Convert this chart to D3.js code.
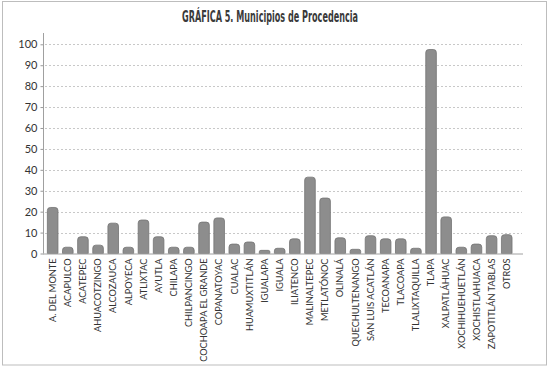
<!DOCTYPE html>
<html><head>
<meta charset="utf-8">
<title>Municipios de Procedencia</title>
<script src="https://d3js.org/d3.v7.min.js"></script>
<style>
body { margin: 0; background: #fff; }
svg text { fill: #333; }
</style>
</head>
<body>
<div id="chart"></div>
<script>
// data
const municipios = ["A. DEL MONTE", "ACAPULCO", "ACATEPEC", "AHUACOTZINGO", "ALCOZAUCA",
  "ALPOYECA", "ATLIXTAC", "AYUTLA", "CHILAPA", "CHILPANCINGO", "COCHOAPA EL GRANDE",
  "COPANATOYAC", "CUALAC", "HUAMUXTITLÁN", "IGUALAPA", "IGUALA", "ILIATENCO",
  "MALINALTEPEC", "METLATÓNOC", "OLINALÁ", "QUECHULTENANGO", "SAN LUIS ACATLÁN",
  "TECOANAPA", "TLACOAPA", "TLALIXTAQUILLA", "TLAPA", "XALPATLÁHUAC", "XOCHIHUEHUETLÁN",
  "XOCHISTLAHUACA", "ZAPOTITLÁN TABLAS", "OTROS"];
const casos = [22, 3, 8, 4, 14.5,
  3, 16, 8, 3, 3, 15,
  17, 4.5, 5.5, 1.5, 2.5, 7,
  36.5, 26.5, 7.5, 2, 8.5,
  7, 7, 2.5, 97.5, 17.5, 3,
  4.5, 8.5, 9];
const yTicks = [0, 10, 20, 30, 40, 50, 60, 70, 80, 90, 100];
const titulo = "GRÁFICA 5. Municipios de Procedencia";

const W = 550, H = 369;
const svg = d3.select("#chart").append("svg")
    .attr("width", W).attr("height", H);

// outer frame
svg.append("rect")
    .attr("x", 2.5).attr("y", 1.5)
    .attr("width", 544).attr("height", 363.5)
    .attr("fill", "#fff").attr("stroke", "#bdbdbd");

svg.append("text")
    .attr("x", 270).attr("y", 22)
    .attr("text-anchor", "middle")
    .attr("textLength", 176)
    .attr("lengthAdjust", "spacingAndGlyphs")
    .style("font-family", "'DejaVu Sans Condensed', 'DejaVu Sans', sans-serif")
    .style("font-size", "15.5px")
    .style("font-weight", "600")
    .style("fill", "#3a3a3a")
    .text(titulo);

const x = d3.scaleBand()
    .domain(municipios)
    .range([45.1, 514.3])
    .paddingInner(0.3)
    .paddingOuter(0.15);

const y = d3.scaleLinear()
    .domain([0, 100])
    .range([253.5, 44.3]);

// dotted grid
svg.append("g")
  .selectAll("line")
  .data(yTicks.filter(d => d > 0))
  .join("line")
    .attr("x1", 45).attr("x2", 522)
    .attr("y1", d => Math.round(y(d)) + 0.5)
    .attr("y2", d => Math.round(y(d)) + 0.5)
    .attr("stroke", "#c8c8c8")
    .attr("stroke-dasharray", "2,2");

// y axis
const yAxis = svg.append("g")
    .attr("transform", "translate(43.5,0)")
    .call(d3.axisLeft(y).tickValues(yTicks).tickSize(3).tickPadding(3));
yAxis.select(".domain").remove();
yAxis.selectAll("line").attr("stroke", "#999");
yAxis.selectAll("text")
    .style("font-family", "Lato, 'DejaVu Sans', sans-serif")
    .style("font-size", "11px")
    .style("fill", "#333");
svg.append("line")
    .attr("x1", 43.5).attr("x2", 43.5)
    .attr("y1", 33).attr("y2", y(0))
    .attr("stroke", "#a0a0a0");

// bars with rounded tops
const r = 3;
function barPath(d, i) {
  const x0 = x(municipios[i]), w = x.bandwidth();
  const y0 = y(0), y1 = y(d);
  const rr = Math.min(r, (y0 - y1) / 2, w / 2);
  return `M${x0},${y0}V${y1 + rr}Q${x0},${y1} ${x0 + rr},${y1}` +
         `H${x0 + w - rr}Q${x0 + w},${y1} ${x0 + w},${y1 + rr}V${y0}Z`;
}
svg.append("g")
  .selectAll("path")
  .data(casos)
  .join("path")
    .attr("d", barPath)
    .attr("fill", "#8d8d8d")
    .attr("stroke", "#747474")
    .attr("stroke-width", 0.8);

// baseline
svg.append("line")
    .attr("x1", 43).attr("x2", 523)
    .attr("y1", y(0) + 0.5).attr("y2", y(0) + 0.5)
    .attr("stroke", "#a0a0a0");

// x labels
const xAxis = svg.append("g")
    .attr("transform", `translate(0,${y(0)})`)
    .call(d3.axisBottom(x).tickSize(0).tickPadding(0));
xAxis.select(".domain").remove();
xAxis.selectAll("text")
    .attr("transform", "rotate(-90)")
    .attr("x", -5)
    .attr("y", 0)
    .attr("dy", "0.35em")
    .attr("text-anchor", "end")
    .style("font-family", "Lato, 'DejaVu Sans', sans-serif")
    .style("font-size", "9.2px")
    .style("fill", "#333");
</script>
</body>
</html>
